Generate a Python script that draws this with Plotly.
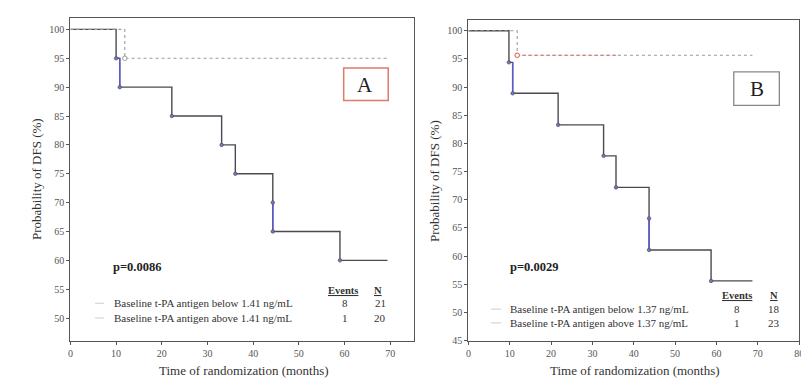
import plotly.graph_objects as go

# ---------------- data ----------------
# Panel A (cut-off 1.41 ng/mL)
a_below_t = [0, 10.0, 10.8, 22.2, 33.1, 36.1, 44.3, 44.3, 59.0, 69.4]
a_below_s = [100, 95, 90, 85, 80, 75, 70, 65, 60, 60]
a_above_t = [0, 11.9, 69.8]
a_above_s = [100, 95, 95]
# Panel B (cut-off 1.37 ng/mL)
b_below_t = [0, 9.8, 10.7, 21.7, 32.7, 35.7, 43.7, 43.7, 58.7, 68.7]
b_below_s = [100, 94.4, 88.9, 83.3, 77.8, 72.2, 66.7, 61.1, 55.6, 55.6]
b_above_t = [0, 11.8, 68.7]
b_above_s = [100, 95.65, 95.65]

a_labels = ["Baseline t-PA antigen below 1.41 ng/mL", "Baseline t-PA antigen above 1.41 ng/mL"]
a_events = ["8", "1"]
a_n = ["21", "20"]
b_labels = ["Baseline t-PA antigen below 1.37 ng/mL", "Baseline t-PA antigen above 1.37 ng/mL"]
b_events = ["8", "1"]
b_n = ["18", "23"]
a_p = "p=0.0086"
b_p = "p=0.0029"
x_ticks_a = [0, 10, 20, 30, 40, 50, 60, 70]
x_ticks_b = [0, 10, 20, 30, 40, 50, 60, 70, 80]
y_ticks_a = [50, 55, 60, 65, 70, 75, 80, 85, 90, 95, 100]
y_ticks_b = [45, 50, 55, 60, 65, 70, 75, 80, 85, 90, 95, 100]

# drops (index of end point) drawn in blue
blue_drops = [2, 7]
b_red_until = 36.6

W, H = 809, 378
FONT = "Liberation Serif"
GREY_LINE = "#4a4a52"
BLUE = "#5a5ad6"


def px(x):
    return x / W


def py(y):
    return 1 - y / H


fig = go.Figure()


def add_panel(xa, ya, bt, bs, at, as_, above_color, red_until=None):
    fig.add_trace(go.Scatter(x=bt, y=bs, mode="lines", line=dict(shape="hv", color=GREY_LINE, width=1.4),
                             xaxis=xa, yaxis=ya, showlegend=False, hoverinfo="skip"))
    for i in blue_drops:
        fig.add_trace(go.Scatter(x=[bt[i], bt[i]], y=[bs[i - 1], bs[i]], mode="lines",
                                 line=dict(color=BLUE, width=1.4), xaxis=xa, yaxis=ya,
                                 showlegend=False, hoverinfo="skip"))
    fig.add_trace(go.Scatter(x=bt[1:-1], y=bs[1:-1], mode="markers",
                             marker=dict(size=3.5, color="#7a7aa8", line=dict(width=0.7, color="#4b4b78")),
                             xaxis=xa, yaxis=ya, showlegend=False, hoverinfo="skip"))
    fig.add_trace(go.Scatter(x=at, y=as_, mode="lines", line=dict(shape="hv", color="#9a9a9a", width=1.1, dash="dot"),
                             xaxis=xa, yaxis=ya, showlegend=False, hoverinfo="skip"))
    if red_until is not None:
        fig.add_trace(go.Scatter(x=[at[1], red_until], y=[as_[1], as_[2]], mode="lines",
                                 line=dict(color="#e07070", width=1.1, dash="dot"),
                                 xaxis=xa, yaxis=ya, showlegend=False, hoverinfo="skip"))
    fig.add_trace(go.Scatter(x=at[1:2], y=as_[1:2], mode="markers",
                             marker=dict(size=4.5, color="white", line=dict(width=1, color=above_color)),
                             xaxis=xa, yaxis=ya, showlegend=False, hoverinfo="skip"))


add_panel("x", "y", a_below_t, a_below_s, a_above_t, a_above_s, "#9a9a9a")
add_panel("x2", "y2", b_below_t, b_below_s, b_above_t, b_above_s, "#e05050", b_red_until)

axis_common = dict(showgrid=False, zeroline=False, showline=True, linecolor="#555", linewidth=1.3,
                   mirror=True, ticks="outside", ticklen=3, tickcolor="#555",
                   tickfont=dict(family=FONT, size=10, color="#555"))

fig.update_layout(
    width=W, height=H, margin=dict(l=0, r=0, t=0, b=0),
    paper_bgcolor="white", plot_bgcolor="white",
    xaxis=dict(domain=[px(60), px(407)], range=[0, 75.2], tickvals=x_ticks_a, anchor="y", **axis_common),
    yaxis=dict(domain=[py(338), py(10)], range=[46.1, 102], tickvals=y_ticks_a, anchor="x", **axis_common),
    xaxis2=dict(domain=[px(462), px(796)], range=[0, 80], tickvals=x_ticks_b, anchor="y2", **axis_common),
    yaxis2=dict(domain=[py(338), py(11.7)], range=[45, 102], tickvals=y_ticks_b, anchor="x2", **axis_common),
)

ann = []


def text(x, y, s, size=10.5, xanchor="center", bold=False, angle=0, color="#333"):
    if bold:
        s = "<b>" + s + "</b>"
    ann.append(dict(x=px(x), y=py(y), xref="paper", yref="paper", text=s, showarrow=False,
                    xanchor=xanchor, yanchor="middle", textangle=angle,
                    font=dict(family=FONT, size=size, color=color)))


text(235, 368, "Time of randomization (months)", size=13)
text(630, 368, "Time of randomization (months)", size=13)
text(25, 174, "Probability of DFS (%)", size=13, angle=-90)
text(427, 176, "Probability of DFS (%)", size=13, angle=-90)

text(101, 263, a_p, size=12.5, xanchor="left", bold=True, color="#222")
text(502, 263, b_p, size=12.5, xanchor="left", bold=True, color="#222")

ul = '<span style="text-decoration:underline">{}</span>'
text(335, 287, ul.format("Events"), size=10.5, bold=True)
text(371, 287, ul.format("N"), size=10.5, bold=True)
for i, (lab, ev, n) in enumerate(zip(a_labels, a_events, a_n)):
    yy = 300 + 15 * i
    text(102, yy, lab, size=11, xanchor="left")
    text(337, yy, ev, size=11)
    text(373, yy, n, size=11)
text(733, 292, ul.format("Events"), size=10.5, bold=True)
text(771, 292, ul.format("N"), size=10.5, bold=True)
for i, (lab, ev, n) in enumerate(zip(b_labels, b_events, b_n)):
    yy = 306 + 14 * i
    text(502, yy, lab, size=11, xanchor="left")
    text(733, yy, ev, size=11)
    text(771, yy, n, size=11)

text(358, 78, "A", size=21, color="#222")
text(753, 82, "B", size=21, color="#222")
fig.update_layout(annotations=ann)

shapes = [
    dict(type="rect", xref="paper", yref="paper", x0=px(336), x1=px(381), y0=py(94), y1=py(61),
         line=dict(color="#e07a6a", width=1.5)),
    dict(type="rect", xref="paper", yref="paper", x0=px(730), x1=px(776), y0=py(99), y1=py(65),
         line=dict(color="#888", width=1.3)),
]
for yy in (300, 315):
    shapes.append(dict(type="line", xref="paper", yref="paper", x0=px(85), x1=px(94), y0=py(yy), y1=py(yy),
                       line=dict(color="#ccc", width=1)))
for yy in (306, 320):
    shapes.append(dict(type="line", xref="paper", yref="paper", x0=px(485), x1=px(495), y0=py(yy), y1=py(yy),
                       line=dict(color="#ccc", width=1)))
fig.update_layout(shapes=shapes)

fig.write_html("out.html")
